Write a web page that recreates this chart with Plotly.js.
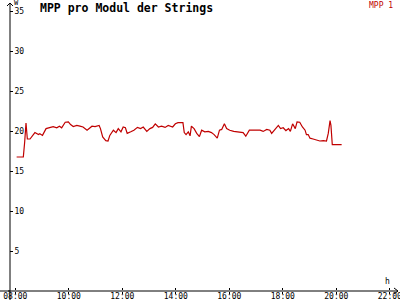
<!DOCTYPE html>
<html>
<head>
<meta charset="utf-8">
<script src="https://cdn.plot.ly/plotly-3.0.1.min.js"></script>
<style>html,body{margin:0;padding:0;background:#fff}#chart{width:400px;height:300px}</style>
</head>
<body>
<div id="chart"></div>
<script>
const times = ["08:03","08:18","08:21","08:24","08:27","08:33","08:44","08:52","08:55","09:01",
"09:09","09:18","09:25","09:33","09:39","09:44","09:52","09:59","10:04","10:10",
"10:18","10:25","10:32","10:41","10:52","10:59","11:08","11:11","11:16","11:23",
"11:28","11:32","11:40","11:46","11:51","11:57","12:02","12:07","12:11","12:19",
"12:26","12:34","12:41","12:47","12:55","13:02","13:08","13:14","13:21","13:28",
"13:36","13:43","13:53","13:59","14:05","14:16","14:19","14:23","14:28","14:32",
"14:35","14:41","14:47","14:53","14:58","15:05","15:13","15:20","15:26","15:33",
"15:38","15:43","15:49","15:54","16:01","16:10","16:20","16:31","16:37","16:45",
"17:09","17:16","17:24","17:31","17:35","17:43","17:50","17:55","18:01","18:07",
"18:13","18:17","18:22","18:28","18:32","18:38","18:44","18:50","18:53","18:57",
"19:01","19:08","19:16","19:23","19:31","19:38","19:42","19:46","19:48","19:51","20:12"];
const mpp1 = [16.75,16.75,18.6,21.0,19.0,19.0,19.8,19.55,19.65,19.45,
20.3,20.4,20.55,20.4,20.6,20.4,21.1,21.15,20.8,20.55,
20.7,20.6,20.5,20.1,20.6,20.55,20.7,20.3,19.25,18.8,
18.75,19.45,20.1,19.8,20.3,19.9,20.5,20.4,19.7,19.9,
20.1,20.45,20.3,20.5,19.95,20.3,20.45,20.9,20.5,20.6,
20.45,20.7,20.5,20.9,21.05,21.05,19.8,19.55,19.9,19.4,
20.6,20.3,19.7,19.3,20.1,19.9,19.95,19.8,19.55,19.1,
20.1,20.2,20.9,20.3,20.1,19.95,19.9,19.8,19.35,20.1,
20.1,19.95,20.2,20.1,19.7,20.2,20.7,20.3,20.4,20.05,
20.3,19.95,20.9,20.3,21.15,21.1,20.5,20.1,19.55,19.55,
19.1,19.0,18.9,18.75,18.8,18.75,19.7,21.3,20.7,18.3,18.3];
const tickHours = [8,10,12,14,16,18,20,22];
const tickLabels = ["08:00","10:00","12:00","14:00","16:00","18:00","20:00","22:00"];
const yTicks = [5,10,15,20,25,30,35];

function toHours(s){const p=s.split(":");return +p[0]+(+p[1])/60;}
const xs = times.map(toHours);

const mono = "DejaVu Sans Mono, monospace";
const red = "#c00000";
const xRange = [7.802, 22.307];

const trace = {x: xs, y: mpp1, type: "scatter", mode: "lines", name: "MPP 1",
  line: {color: red, width: 1.2}, showlegend: false, hoverinfo: "skip"};
const dummy = {x: [], y: [], xaxis: "x2", yaxis: "y", type: "scatter", mode: "lines",
  showlegend: false, hoverinfo: "skip"};

const layout = {
  width: 400, height: 300,
  margin: {l: 10, r: 2, t: 3, b: 9, pad: 0},
  paper_bgcolor: "#fff", plot_bgcolor: "#fff",
  showlegend: false,
  xaxis: {range: xRange, showgrid: false, zeroline: false, showline: false,
    tickmode: "array", tickvals: tickHours, showticklabels: false,
    ticks: "outside", ticklen: 2, tickwidth: 1, tickcolor: "#000", fixedrange: true},
  xaxis2: {range: xRange, overlaying: "x", anchor: "free", position: 0.005, side: "bottom",
    showgrid: false, zeroline: false, showline: false,
    tickmode: "array", tickvals: tickHours, ticktext: tickLabels,
    ticks: "inside", ticklen: 2, tickwidth: 1, tickcolor: "#000",
    ticklabeloverflow: "allow",
    tickfont: {family: mono, size: 8, color: "#000"}, fixedrange: true},
  yaxis: {range: [0, 36], showgrid: false, zeroline: false, showline: false,
    tickmode: "array", tickvals: yTicks, ticktext: yTicks.map(String),
    ticks: "inside", ticklen: 3, tickwidth: 1, tickcolor: "#000",
    ticklabelposition: "inside", ticklabeloverflow: "allow",
    tickfont: {family: mono, size: 8, color: "#000"}, fixedrange: true},
  title: {text: "<b>MPP pro Modul der Strings</b>", x: 40/400, xanchor: "left",
    y: 1 - 8/300, yanchor: "middle", font: {family: mono, size: 11.5, color: "#000"}},
  shapes: [
    {type: "line", xref: "paper", yref: "paper", x0: 0, x1: 0, y0: -0.035, y1: 1.0,
      line: {color: "#000", width: 1}},
    {type: "line", xref: "paper", yref: "paper", x0: -0.03, x1: 1.0, y0: 0, y1: 0,
      line: {color: "#000", width: 1}},
    {type: "line", xref: "paper", yref: "paper", x0: -2/388, x1: 0, y0: 0, y1: 0,
      line: {color: "#000", width: 1}},
    {type: "path", xref: "paper", yref: "paper",
      path: "M " + (-3/388) + " " + (1-3/288) + " L 0 1.0 L " + (3/388) + " " + (1-3/288),
      line: {color: "#000", width: 1}},
    {type: "path", xref: "paper", yref: "paper",
      path: "M " + (1-4/388) + " " + (3/288) + " L 1 0 L " + (1-4/388) + " " + (-3/288),
      line: {color: "#000", width: 1}}
  ],
  annotations: [
    {text: "MPP 1", xref: "paper", yref: "paper", x: (395-10)/388, y: (291-5.5)/288,
      xanchor: "right", yanchor: "middle", showarrow: false,
      font: {family: mono, size: 8, color: red}},
    {text: "h", xref: "paper", yref: "paper", x: (387-10)/388, y: (291-281)/288,
      xanchor: "center", yanchor: "middle", showarrow: false,
      font: {family: mono, size: 8, color: "#000"}},
    {text: "W", xref: "paper", yref: "paper", x: (16-10)/388, y: (291-3)/288,
      xanchor: "center", yanchor: "middle", showarrow: false,
      font: {family: mono, size: 7, color: "#000"}}
  ]
};

Plotly.newPlot("chart", [trace, dummy], layout, {staticPlot: true, displayModeBar: false});
</script>
</body>
</html>
